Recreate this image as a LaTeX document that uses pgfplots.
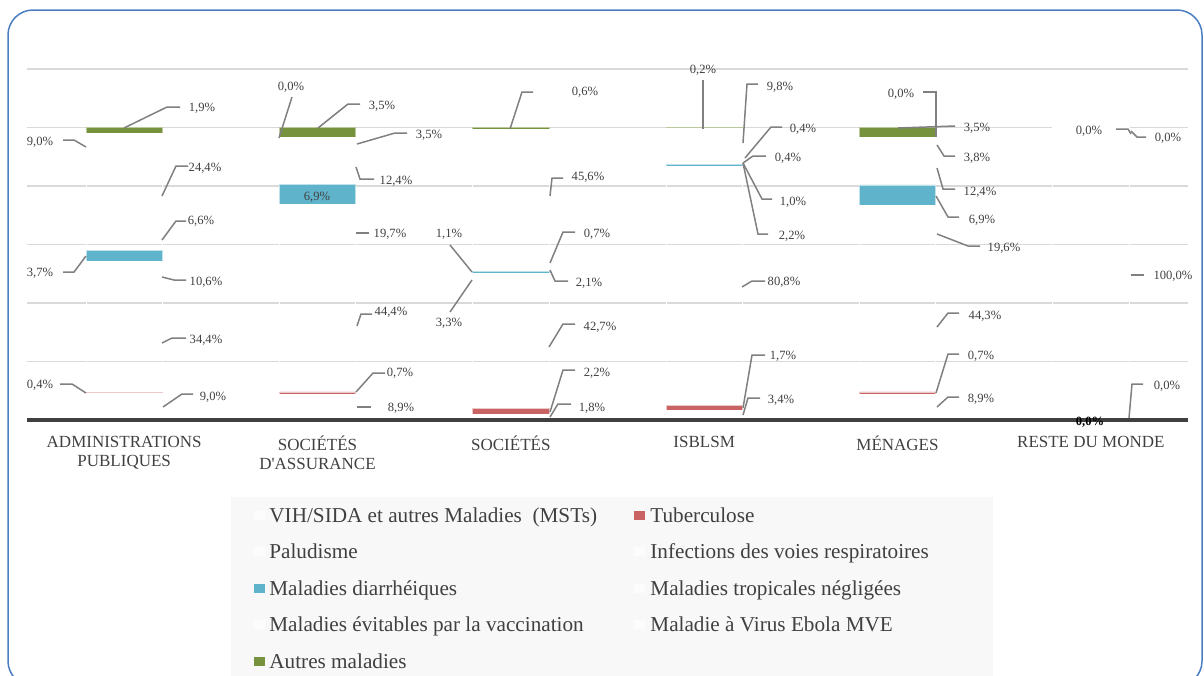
\documentclass[border=0pt]{standalone}
\usepackage{fontspec}
\setmainfont{Liberation Serif}
\usepackage{pgfplots}
\usepackage{pgfplotstable}
\pgfplotsset{compat=1.18}
\definecolor{txt}{HTML}{404040}
\definecolor{lead}{HTML}{808080}
\definecolor{tub}{HTML}{C96363}
\definecolor{diar}{HTML}{5FB3CA}
\definecolor{autr}{HTML}{76923C}
\definecolor{gridc}{HTML}{D9D9D9}
\definecolor{framec}{HTML}{4A7EC1}
\definecolor{legbg}{HTML}{F8F8F8}

\pgfplotstableread{
x vih tub palu inf diar trop vacc ebola autres
0 9.0 0.4 34.4 10.6 3.7 6.6 24.4 9.0 1.9
1 8.9 0.7 44.4 19.7 6.9 12.4 3.5 0.0 3.5
2 1.8 2.2 42.7 3.3 0.7 2.1 1.1 45.6 0.6
3 3.4 1.7 80.8 1.0 0.4 2.2 0.4 9.8 0.2
4 8.9 0.7 44.3 19.6 6.9 12.4 3.8 0.0 3.5
5 0.0 0.0 100.0 0.0 0.0 0.0 0.0 0.0 0.0
}\data

\newcommand{\lbl}{\fontsize{6.3}{7}\selectfont}
\newcommand{\lab}[3]{\node[font=\lbl, text=txt, inner sep=0pt, anchor=base] at (#1,#2+4.2) {#3};}
\newcommand{\ld}[1]{\draw[lead, line width=0.75pt] #1;}
\newcommand{\legfont}{\fontsize{10.6}{12}\selectfont}
\newcommand{\sq}{{\XeTeXglyph\XeTeXcharglyph"0027\relax}}

\begin{document}
\begin{tikzpicture}[x=0.5pt,y=-0.5pt]
\useasboundingbox (0,0) rectangle (1204,675);
\draw[framec, line width=0.75pt, rounded corners=12.5pt] (8,10) rectangle (1202,686);
% legend background
\fill[legbg] (231,497) rectangle (993,700);
\coordinate (ax) at (27.5,420);
\begin{axis}[
  at={(ax)}, anchor=south west, scale only axis,
  width=580pt, height=175.5pt,
  xmin=-0.5, xmax=5.5, ymin=0, ymax=120,
  ybar stacked, bar width=38.15pt,
  ytick={0,20,...,120}, yticklabels={},
  ymajorgrids, grid style={gridc, line width=0.8pt},
  major tick length=0pt,
  axis x line*=bottom, axis y line*=left,
  y axis line style={draw=none},
  x axis line style={txt, line width=2.25pt},
  xtick={0,...,5},
  xticklabels={{ADMINISTRATIONS\\PUBLIQUES},{SOCIÉTÉS\\D\sq ASSURANCE},{SOCIÉTÉS},{ISBLSM},{MÉNAGES},{RESTE DU MONDE}},
  xticklabel style={font=\fontsize{8.5}{9.5}\selectfont, align=center, text=txt, yshift=-4.5pt},
]
\addplot[fill=none, draw=white, line width=0.3pt] table[x=x,y=vih]{\data};
\addplot[fill=tub, draw=tub!35!white, line width=0.3pt] table[x=x,y=tub]{\data};
\addplot[fill=none, draw=white, line width=0.3pt] table[x=x,y=palu]{\data};
\addplot[fill=none, draw=white, line width=0.3pt] table[x=x,y=inf]{\data};
\addplot[fill=diar, draw=diar!40!white, line width=0.3pt] table[x=x,y=diar]{\data};
\addplot[fill=none, draw=white, line width=0.3pt] table[x=x,y=trop]{\data};
\addplot[fill=none, draw=white, line width=0.3pt] table[x=x,y=vacc]{\data};
\addplot[fill=none, draw=white, line width=0.3pt] table[x=x,y=ebola]{\data};
\addplot[fill=autr, draw=autr!50!white, line width=0.3pt] table[x=x,y=autres]{\data};
\end{axis}
% axis line redrawn above the bar borders
\draw[txt, line width=2.25pt] (27.5,420) -- (1187.5,420);

% ---- data labels: ADMINISTRATIONS PUBLIQUES
\ld{(180,107)--(167,107)--(124,128)} \lab{202}{107}{1,9\%}
\ld{(63,140)--(74,140)--(86,147)} \lab{40}{141}{9,0\%}
\ld{(162,196)--(176,166)--(188,166)} \lab{205}{167}{24,4\%}
\ld{(162,240)--(176,221)--(186,221)} \lab{201}{220}{6,6\%}
\ld{(63,272)--(74,272)--(86,256)} \lab{40}{272}{3,7\%}
\ld{(162,277)--(174,280)--(186,280)} \lab{206}{281}{10,6\%}
\ld{(162,343)--(172,338)--(186,338)} \lab{206}{339}{34,4\%}
\ld{(60,384)--(72,384)--(86,393)} \lab{40}{384}{0,4\%}
\ld{(163,407)--(182,394)--(193,394)} \lab{213}{396}{9,0\%}
% ---- SOCIETES D'ASSURANCE
\ld{(292,97)--(279,138)} \lab{291}{86}{0,0\%}
\ld{(360,104)--(348,104)--(318,128)} \lab{382}{105}{3,5\%}
\ld{(357,144)--(395,133)--(407,133)} \lab{429}{134}{3,5\%}
\ld{(356,167)--(360,179)--(374,179)} \lab{396}{180}{12,4\%}
\lab{317}{196}{6,9\%}
\ld{(356,233)--(369,233)} \lab{390}{233}{19,7\%}
\ld{(357,326)--(361,314)--(372,314)} \lab{391}{311}{44,4\%}
\ld{(356,392)--(373,373)--(385,373)} \lab{400}{372}{0,7\%}
\ld{(357,407)--(371,407)} \lab{401}{407}{8,9\%}
% ---- SOCIETES
\ld{(510,129)--(522,92)--(533,92)} \lab{585}{91}{0,6\%}
\ld{(550,196)--(552,178)--(563,178)} \lab{588}{176}{45,6\%}
\ld{(450,245)--(472,272)} \lab{449}{233}{1,1\%}
\ld{(450,312)--(472,280)} \lab{449}{322}{3,3\%}
\ld{(575,232)--(563,232)--(550,263)} \lab{597}{233}{0,7\%}
\ld{(550,270)--(555,281)--(568,281)} \lab{589}{282}{2,1\%}
\ld{(575,324)--(563,324)--(549,347)} \lab{600}{326}{42,7\%}
\ld{(575,370)--(563,370)--(550,412)} \lab{597}{372}{2,2\%}
\ld{(550,417)--(558,404)--(571,404)} \lab{592}{407}{1,8\%}
% ---- ISBLSM
\ld{(703,80)--(703,129)} \lab{703}{69}{0,2\%}
\ld{(758,84)--(747,84)--(743,143)} \lab{780}{86}{9,8\%}
\ld{(782,127)--(771,127)--(745,158)} \lab{803}{128}{0,4\%}
\ld{(743,163)--(753,156)--(766,156)} \lab{788}{157}{0,4\%}
\ld{(743,163)--(762,199)--(772,199)} \lab{793}{201}{1,0\%}
\ld{(743,163)--(758,234)--(768,234)} \lab{792}{235}{2,2\%}
\ld{(742,287)--(752,281)--(765,281)} \lab{784}{281}{80,8\%}
\ld{(743,408)--(752,355)--(765,355)} \lab{783}{355}{1,7\%}
\ld{(743,415)--(748,398)--(760,398)} \lab{781}{399}{3,4\%}
% ---- MENAGES
\ld{(923,92)--(936,92)--(936,137)} \lab{901}{93}{0,0\%}
\ld{(898,128)--(955,126)} \lab{977}{127}{3,5\%}
\ld{(937,145)--(944,156)--(955,156)} \lab{977}{157}{3,8\%}
\ld{(937,168)--(943,189)--(955,189)} \lab{980}{191}{12,4\%}
\ld{(936,196)--(948,217)--(959,217)} \lab{982}{219}{6,9\%}
\ld{(937,234)--(968,246)--(980,246)} \lab{1004}{247}{19,6\%}
\ld{(937,327)--(948,313)--(959,313)} \lab{985}{315}{44,3\%}
\ld{(936,393)--(948,354)--(959,354)} \lab{981}{355}{0,7\%}
\ld{(937,407)--(948,397)--(959,397)} \lab{981}{398}{8,9\%}
% ---- RESTE DU MONDE
\ld{(1131,275)--(1144,275)} \lab{1173}{275}{100,0\%}
\ld{(1129,418)--(1132,384)--(1143,384)} \lab{1167}{385}{0,0\%}
\ld{(1116,129)--(1128,129)--(1131,134)} \lab{1089}{130}{0,0\%}
\ld{(1131,131)--(1137,137)--(1146,137)} \lab{1168}{137}{0,0\%}
\node[font=\lbl\bfseries, text=black, inner sep=0pt, anchor=base] at (1090,425) {0,0\%};

% ---- legend
\begin{scope}[font=\legfont]
\fill[white!60!legbg] (254,510.5) rectangle (265,519.5);
\node[anchor=base west, inner sep=0pt, text=txt] at (269,522) {VIH/SIDA et autres Maladies\ \ (MSTs)};
\fill[tub] (634,510.5) rectangle (645,519.5);
\node[anchor=base west, inner sep=0pt, text=txt] at (650,522) {Tuberculose};
\fill[white!60!legbg] (254,547) rectangle (265,556);
\node[anchor=base west, inner sep=0pt, text=txt] at (269,558.5) {Paludisme};
\fill[white!60!legbg] (634,547) rectangle (645,556);
\node[anchor=base west, inner sep=0pt, text=txt] at (650,558.5) {Infections des voies respiratoires};
\fill[diar] (254,583.5) rectangle (265,592.5);
\node[anchor=base west, inner sep=0pt, text=txt] at (269,595) {Maladies diarrhéiques};
\fill[white!60!legbg] (634,583.5) rectangle (645,592.5);
\node[anchor=base west, inner sep=0pt, text=txt] at (650,595) {Maladies tropicales négligées};
\fill[white!60!legbg] (254,620) rectangle (265,629);
\node[anchor=base west, inner sep=0pt, text=txt] at (269,631.5) {Maladies évitables par la vaccination};
\fill[white!60!legbg] (634,620) rectangle (645,629);
\node[anchor=base west, inner sep=0pt, text=txt] at (650,631.5) {Maladie à Virus Ebola MVE};
\fill[autr] (254,656.5) rectangle (265,665.5);
\node[anchor=base west, inner sep=0pt, text=txt] at (269,668) {Autres maladies};
\end{scope}
\end{tikzpicture}
\end{document}
